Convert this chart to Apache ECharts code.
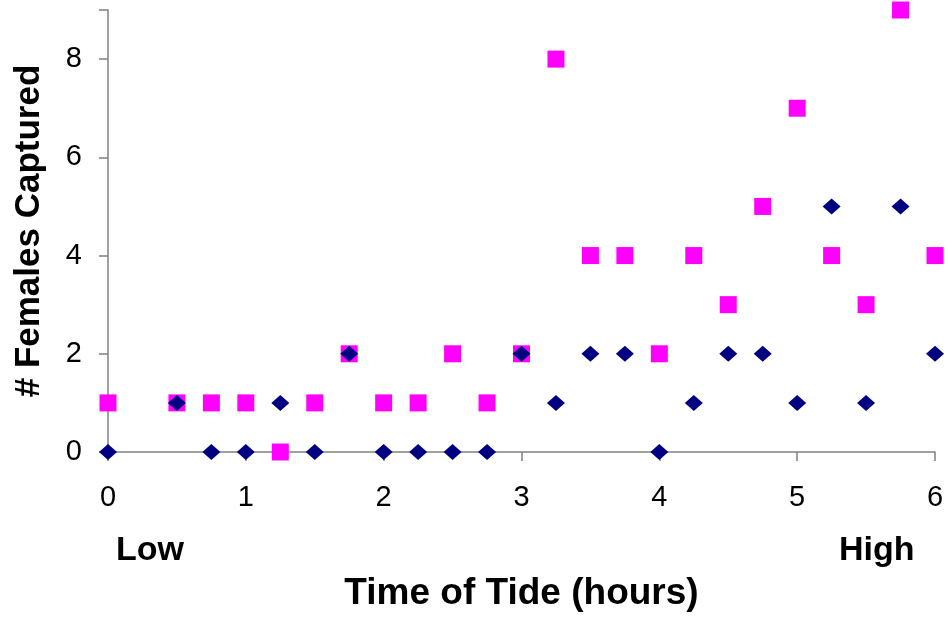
<!DOCTYPE html>
<html><head><meta charset="utf-8">
<script src="https://cdn.jsdelivr.net/npm/echarts@6/dist/echarts.min.js"></script>
<style>html,body{margin:0;padding:0;background:#fff}#c{width:948px;height:619px}</style>
</head><body><div id="c"></div>
<script>
const hours = [0,0.5,0.75,1,1.25,1.5,1.75,2,2.25,2.5,2.75,3,3.25,3.5,3.75,4,4.25,4.5,4.75,5,5.25,5.5,5.75,6];
const pinkValues = [1,1,1,1,0,1,2,1,1,2,1,2,8,4,4,2,4,3,5,7,4,3,9,4];
const navyValues = [0,1,0,0,1,0,2,0,0,0,0,2,1,2,2,0,1,2,2,1,5,1,5,2];
const xTicks = [0,1,2,3,4,5,6];
const yTicks = [0,2,4,6,8];

const chart = echarts.init(document.getElementById('c'));
const font = 'Liberation Sans, Arial, sans-serif';
chart.setOption({
  animation:false,
  grid:{left:108,right:13,top:10,bottom:167,outerBoundsMode:'none',containLabel:false},
  xAxis:{type:'value',min:0,max:6,interval:1,
    axisLine:{lineStyle:{color:'#808080',width:1.5}},
    axisTick:{show:true,length:9,lineStyle:{color:'#808080',width:1.5}},
    splitLine:{show:false},
    axisLabel:{fontSize:29,color:'#000',fontFamily:font,margin:31,
      formatter:v=>xTicks.includes(v)?String(v):''},
    name:'Time of Tide (hours)',nameLocation:'middle',nameGap:123,
    nameTextStyle:{fontSize:37,fontWeight:'bold',color:'#000',fontFamily:font}},
  yAxis:{type:'value',min:0,max:9,interval:2,
    axisLine:{show:true,lineStyle:{color:'#808080',width:1.5}},
    axisTick:{show:true,length:9,lineStyle:{color:'#808080',width:1.5}},
    splitLine:{show:false},
    axisLabel:{fontSize:29,color:'#000',fontFamily:font,margin:26,
      formatter:v=>yTicks.includes(v)?String(v):''},
    name:'# Females Captured',nameLocation:'middle',nameGap:61,
    nameTextStyle:{fontSize:35,fontWeight:'bold',color:'#000',fontFamily:font}},
  graphic:[
    {type:'text',left:116,top:534,style:{text:'Low',font:'bold 34px '+font,fill:'#000'}},
    {type:'text',left:839,top:534,style:{text:'High',font:'bold 34px '+font,fill:'#000'}}
  ],
  series:[
    {type:'scatter',symbol:'rect',symbolSize:17,itemStyle:{color:'#FF00FF',opacity:1},
      data:hours.map((h,i)=>[h,pinkValues[i]]),z:2},
    {type:'scatter',symbol:'diamond',symbolSize:[18,16],itemStyle:{color:'#000080',opacity:1},
      data:hours.map((h,i)=>[h,navyValues[i]]),z:3}
  ]
});
</script></body></html>
